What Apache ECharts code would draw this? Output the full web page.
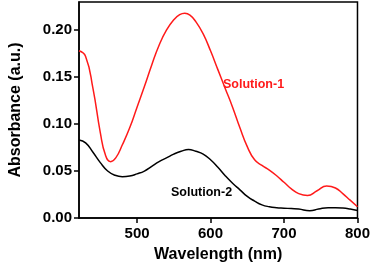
<!DOCTYPE html>
<html><head><meta charset="utf-8">
<script src="https://cdn.jsdelivr.net/npm/echarts@6/dist/echarts.min.js"></script>
<style>html,body{margin:0;padding:0;background:#fff}#c{width:373px;height:268px}</style>
</head><body><div id="c"></div>
<script>
var wl1 = [421,430,440,450,457,464,471,480,490,500,510,520,530,540,550,558,565,572,580,590,600,610,620,630,640,650,660,670,680,690,700,710,720,732,745,758,770,780,790,800];
var sol1 = [0.178,0.172,0.138,0.091,0.067,0.060,0.064,0.078,0.096,0.118,0.140,0.163,0.184,0.200,0.211,0.2165,0.218,0.216,0.209,0.196,0.178,0.158,0.138,0.118,0.096,0.076,0.062,0.056,0.051,0.045,0.038,0.031,0.026,0.024,0.029,0.034,0.032,0.026,0.019,0.012];
var wl2 = [421,430,440,450,460,470,480,490,500,510,520,530,540,550,560,570,580,590,600,610,620,630,640,650,660,670,680,690,700,710,720,735,747,760,770,780,790,800];
var sol2 = [0.083,0.080,0.070,0.059,0.050,0.0455,0.044,0.0447,0.047,0.050,0.055,0.060,0.064,0.068,0.071,0.073,0.071,0.068,0.062,0.054,0.045,0.037,0.030,0.023,0.018,0.014,0.012,0.011,0.0105,0.010,0.0095,0.0077,0.0095,0.011,0.011,0.0106,0.0095,0.008];
var xTicks = [500,600,700,800];
var yTicks = [0,0.05,0.10,0.15,0.20];
var seriesNames = ['Solution-1','Solution-2'];

function pairs(x,y){return x.map(function(v,i){return [v,y[i]];});}
var chart = echarts.init(document.getElementById('c'));
var font = 'Liberation Sans, Arial, sans-serif';
chart.setOption({
  animation:false,
  grid:{left:65,right:14,top:2,bottom:49,show:true,borderColor:'#000',borderWidth:1.5},
  xAxis:{type:'value',min:421,max:800,
    name:'Wavelength (nm)',nameLocation:'middle',nameGap:29,
    nameTextStyle:{fontFamily:font,fontWeight:'bold',fontSize:16,color:'#000'},
    axisLine:{lineStyle:{color:'#000',width:1.5}},
    axisTick:{show:true,length:5,lineStyle:{color:'#000',width:1.5},customValues:xTicks},
    axisLabel:{customValues:xTicks,fontFamily:font,fontWeight:'bold',fontSize:15,color:'#000',margin:8},
    splitLine:{show:false}},
  yAxis:{type:'value',min:0,max:0.23,
    name:'Absorbance (a.u.)',nameLocation:'middle',nameGap:55,
    nameTextStyle:{fontFamily:font,fontWeight:'bold',fontSize:16,color:'#000'},
    axisLine:{show:true,lineStyle:{color:'#000',width:1.5}},
    axisTick:{show:true,length:5,lineStyle:{color:'#000',width:1.5},customValues:yTicks},
    axisLabel:{customValues:yTicks,formatter:function(v){return v.toFixed(2);},fontFamily:font,fontWeight:'bold',fontSize:15,color:'#000',margin:7},
    splitLine:{show:false}},
  series:[
    {name:seriesNames[0],type:'line',data:pairs(wl1,sol1),smooth:0.5,showSymbol:false,lineStyle:{color:'#ff1a1a',width:1.5}},
    {name:seriesNames[1],type:'line',data:pairs(wl2,sol2),smooth:0.5,showSymbol:false,lineStyle:{color:'#000',width:1.5}}
  ],
  graphic:[
    {type:'text',left:223,top:78,style:{text:seriesNames[0],font:'bold 12.5px '+font,fill:'#ff1a1a'}},
    {type:'text',left:171,top:186,style:{text:seriesNames[1],font:'bold 12.5px '+font,fill:'#000'}}
  ]
});
</script></body></html>
